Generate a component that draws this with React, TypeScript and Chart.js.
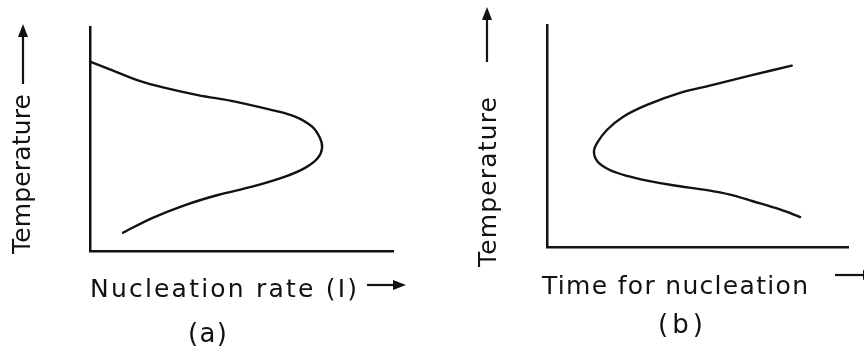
import React, { useEffect, useRef } from "react";
import { Chart, registerables } from "chart.js";

Chart.register(...registerables);

const INK = "#121212";
const FONT = '"DejaVu Sans", sans-serif';

// Panel (a): temperature vs nucleation rate (arbitrary 0-100 units)
const nucleationRate = [0, 7.2, 15.8, 24.8, 35.6, 47.9, 60.1, 67.7, 73.3, 75.9, 76.6, 75.2, 71.0, 64.4, 53.5, 42.2, 31.4, 20.5, 10.9];
const temperatureA = [84.5, 80.7, 76.2, 72.8, 69.6, 66.7, 62.9, 60.0, 55.5, 50.4, 46.0, 41.5, 37.1, 33.2, 28.7, 25.0, 20.5, 14.7, 8.2];

// Panel (b): temperature vs time for nucleation (arbitrary 0-100 units)
const nucleationTime = [81.3, 68.4, 55.1, 44.2, 33.2, 25.2, 19.9, 16.6, 15.6, 16.9, 20.9, 26.6, 33.2, 41.9, 53.2, 60.8, 68.4, 77.4, 84.1];
const temperatureB = [81.7, 77.5, 73.0, 69.4, 64.0, 58.6, 52.7, 46.8, 42.8, 38.3, 34.7, 32.0, 29.9, 27.8, 25.6, 23.6, 20.6, 16.9, 13.5];

const xTitleA = "Nucleation rate (I)";
const xTitleB = "Time for nucleation";
const yTitle = "Temperature";
const tagA = "(a)";
const tagB = "(b)";

type TextSpec = { text: string; x: number; y: number; width: number; size: number; rot?: number };
type ArrowSpec = { x1: number; y1: number; x2: number; y2: number };

function makeTextPlugin(texts: TextSpec[], arrows: ArrowSpec[]) {
  return {
    id: "figText",
    afterDraw(chart: any) {
      const ctx: CanvasRenderingContext2D = chart.ctx;
      ctx.save();
      ctx.fillStyle = INK;
      ctx.strokeStyle = INK;
      for (const t of texts) {
        ctx.save();
        ctx.font = `${t.size}px ${FONT}`;
        (ctx as any).letterSpacing = "0px";
        const natural = ctx.measureText(t.text).width;
        const ls = (t.width - natural) / Math.max(1, t.text.length - 1);
        (ctx as any).letterSpacing = `${ls}px`;
        ctx.translate(t.x, t.y);
        if (t.rot) ctx.rotate(t.rot);
        ctx.textAlign = "left";
        ctx.textBaseline = "alphabetic";
        ctx.fillText(t.text, 0, 0);
        ctx.restore();
      }
      for (const a of arrows) {
        const ang = Math.atan2(a.y2 - a.y1, a.x2 - a.x1);
        const head = 13;
        const half = 5;
        const bx = a.x2 - head * Math.cos(ang);
        const by = a.y2 - head * Math.sin(ang);
        ctx.lineWidth = 2.2;
        ctx.beginPath();
        ctx.moveTo(a.x1, a.y1);
        ctx.lineTo(bx + 2 * Math.cos(ang), by + 2 * Math.sin(ang));
        ctx.stroke();
        ctx.beginPath();
        ctx.moveTo(a.x2, a.y2);
        ctx.lineTo(bx - half * Math.sin(ang), by + half * Math.cos(ang));
        ctx.lineTo(bx + half * Math.sin(ang), by - half * Math.cos(ang));
        ctx.closePath();
        ctx.fill();
      }
      ctx.restore();
    },
  };
}

function buildConfig(xs: number[], ys: number[], padding: any, plugin: any): any {
  const axis = {
    type: "linear",
    min: 0,
    max: 100,
    grid: { display: false, drawTicks: false },
    ticks: { display: false },
    border: { display: true, color: INK, width: 2.5 },
    title: { display: false },
  };
  return {
    type: "scatter",
    data: {
      datasets: [
        {
          data: xs.map((x, i) => ({ x, y: ys[i] })),
          showLine: true,
          tension: 0.35,
          borderColor: INK,
          borderWidth: 2.4,
          borderCapStyle: "round",
          borderJoinStyle: "round",
          pointRadius: 0,
          fill: false,
          clip: false,
        },
      ],
    },
    options: {
      animation: false,
      responsive: false,
      layout: { padding },
      plugins: { legend: { display: false }, tooltip: { enabled: false } },
      scales: { x: { ...axis }, y: { ...axis } },
    },
    plugins: [plugin],
  };
}

function Panel({ xs, ys, padding, texts, arrows }: { xs: number[]; ys: number[]; padding: any; texts: TextSpec[]; arrows: ArrowSpec[] }) {
  const ref = useRef<HTMLCanvasElement | null>(null);
  useEffect(() => {
    if (!ref.current) return;
    const chart = new Chart(ref.current, buildConfig(xs, ys, padding, makeTextPlugin(texts, arrows)));
    return () => chart.destroy();
  }, []);
  return <canvas ref={ref} width={432} height={347} style={{ display: "block", width: 432, height: 347 }} />;
}

export default function App() {
  const up = -Math.PI / 2;
  return (
    <div style={{ position: "absolute", left: 0, top: 0, width: 864, height: 347, display: "flex", background: "#fff" }}>
      <Panel
        xs={nucleationRate}
        ys={temperatureA}
        padding={{ left: 90, top: 27, right: 39, bottom: 96 }}
        texts={[
          { text: xTitleA, x: 90, y: 297, width: 267, size: 25 },
          { text: tagA, x: 188, y: 342, width: 39, size: 26 },
          { text: yTitle, x: 30, y: 254, width: 160, size: 25, rot: up },
        ]}
        arrows={[
          { x1: 367, y1: 285, x2: 406, y2: 285 },
          { x1: 23, y1: 84, x2: 23, y2: 24 },
        ]}
      />
      <Panel
        xs={nucleationTime}
        ys={temperatureB}
        padding={{ left: 115, top: 25, right: 16, bottom: 100 }}
        texts={[
          { text: xTitleB, x: 110, y: 294, width: 266, size: 25 },
          { text: tagB, x: 226, y: 333, width: 45, size: 26 },
          { text: yTitle, x: 64, y: 267, width: 170, size: 25, rot: up },
        ]}
        arrows={[
          { x1: 403, y1: 275, x2: 444, y2: 275 },
          { x1: 55, y1: 62, x2: 55, y2: 7 },
        ]}
      />
    </div>
  );
}
